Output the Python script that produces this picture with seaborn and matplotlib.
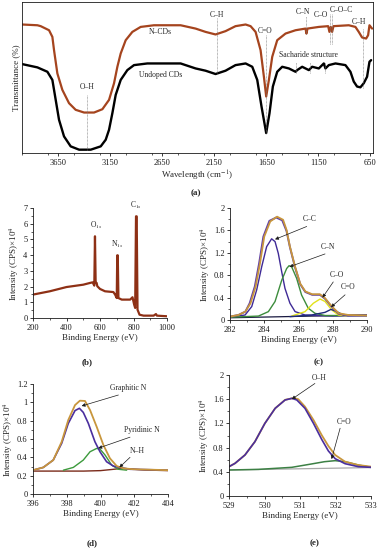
import numpy as np
import pandas as pd
import matplotlib
matplotlib.use("Agg")
import matplotlib.pyplot as plt
import seaborn as sns
from matplotlib.ticker import MultipleLocator, FuncFormatter

# ---- (a) FTIR ----
ncd_wn = [4000, 3852, 3820, 3740, 3708, 3692, 3660, 3612, 3548, 3484, 3403, 3307, 3227, 3163,
          3115, 3083, 3051, 3003, 2939, 2859, 2731, 2475, 2331, 2235, 2139, 2043, 1947, 1850,
          1802, 1754, 1706, 1674, 1652, 1626, 1594, 1546, 1466, 1370, 1274, 1265, 1255, 1146,
          1056, 1044, 1031, 1018, 1005, 858, 794, 762, 730, 691, 672, 659, 634]
ncd_t = [85.1, 84.6, 84.0, 81.3, 76.9, 68.1, 52.7, 41.8, 33.0, 28.6, 26.8, 26.8, 29.0, 35.2,
         46.2, 57.1, 65.9, 74.7, 80.2, 83.5, 84.6, 84.6, 82.4, 80.2, 78.5, 80.7, 84.0, 85.1,
         84.0, 80.2, 68.1, 50.5, 37.4, 48.4, 63.7, 74.7, 79.1, 81.3, 82.4, 79.1, 82.4, 83.5,
         84.0, 80.2, 83.5, 80.2, 84.0, 84.6, 83.5, 80.2, 76.5, 75.8, 78.0, 84.6, 82.4]
und_wn = [4000, 3852, 3756, 3708, 3676, 3644, 3596, 3532, 3451, 3339, 3243, 3195, 3163, 3131,
          3099, 3051, 2987, 2923, 2795, 2475, 2331, 2235, 2139, 2043, 1947, 1850, 1786, 1738,
          1697, 1652, 1620, 1588, 1546, 1498, 1434, 1370, 1354, 1306, 1242, 1210, 1146, 1098,
          1082, 1050, 986, 890, 842, 810, 778, 746, 714, 682, 659, 643]
und_t = [58.9, 56.7, 53.8, 48.4, 35.2, 22.0, 11.0, 4.4, 2.2, 2.2, 4.4, 8.8, 15.4, 26.4,
         38.5, 48.4, 54.9, 58.2, 59.3, 59.3, 56.0, 54.5, 52.3, 54.5, 58.2, 59.3, 57.1, 48.4,
         30.8, 13.2, 26.4, 44.0, 53.8, 57.1, 56.0, 53.8, 54.9, 57.1, 54.9, 57.1, 56.0, 59.3,
         56.0, 58.2, 59.3, 58.2, 53.8, 47.3, 44.0, 43.5, 46.2, 50.5, 60.4, 61.5]
ftir_ticks = [3650, 3150, 2650, 2150, 1650, 1150, 650]
# band markers: label, wavenumber of line, line bottom, line top, label x, label y
bands = [("O–H", 3371, 2.2, 38.5, 3371, 43.5),
         ("C–H", 2129, 52.3, 89.5, 2129, 91.5),
         ("C=O", 1652, 13.2, 78.0, 1665, 80.5),
         ("C–N", 1265, 79.1, 91.0, 1300, 93.5),
         ("C–O", None, 0, 0, 1124, 91.5),
         ("C–O–C", 1040, 72.5, 92.0, 930, 94.5),
         ("C–O–C", 1018, 72.5, 92.0, None, None),
         ("C–H", 723, 42.9, 82.4, 760, 87.0)]
sach_wn = [1370, 1226, 1082]

# ---- (b) XPS survey ----
surv_be = [200, 300, 400, 500, 540, 556, 566, 570, 574, 580, 584, 600, 630, 680, 690, 700,
           703, 706, 710, 730, 780, 794, 804, 810, 815, 819, 824, 836, 860, 920, 934, 940, 1000]
surv_i = [1.49, 1.70, 1.97, 2.12, 2.23, 2.27, 2.06, 5.2, 2.23, 2.23, 2.02, 1.85, 1.70, 1.65, 1.49, 1.27,
          3.99, 3.99, 1.27, 1.17, 1.17, 1.32, 0.85, 0.64, 6.47, 6.47, 0.53, 0.21, 0.15, 0.15, 0.25, 0.15, 0.11]

# ---- (c) C1s ----
c_env_x = [282.0, 282.5, 282.9, 283.2, 283.5, 283.75, 284.0, 284.35, 284.75, 285.1, 285.3, 285.5,
           285.8, 286.1, 286.4, 286.8, 287.25, 287.55, 287.95, 288.35, 288.9, 290.0]
c_env_y = [0.06, 0.09, 0.15, 0.30, 0.60, 1.01, 1.49, 1.76, 1.845, 1.79, 1.61, 1.31,
           0.95, 0.65, 0.51, 0.46, 0.46, 0.39, 0.24, 0.12, 0.09, 0.08]
c_raw_x = [282.0, 282.5, 282.9, 283.15, 283.45, 283.7, 283.95, 284.3, 284.7, 285.05, 285.3, 285.5,
           285.8, 286.1, 286.4, 286.8, 287.25, 287.55, 287.95, 288.35, 288.9, 290.0]
c_raw_y = [0.06, 0.09, 0.15, 0.30, 0.60, 1.01, 1.49, 1.77, 1.83, 1.78, 1.59, 1.30,
           0.94, 0.64, 0.50, 0.45, 0.45, 0.38, 0.23, 0.11, 0.08, 0.08]
cc_x = [282.0, 282.88, 283.27, 283.56, 283.85, 284.14, 284.43, 284.63, 284.82, 285.02, 285.21,
        285.5, 285.8, 286.38, 288.0, 290.0]
cc_y = [0.05, 0.089, 0.24, 0.54, 0.95, 1.31, 1.45, 1.40, 1.19, 0.86, 0.565,
        0.30, 0.15, 0.089, 0.07, 0.08]
cn_x = [282.0, 283.66, 284.24, 284.63, 285.02, 285.31, 285.45, 285.6, 285.89, 286.18, 286.57,
        286.96, 287.55, 290.0]
cn_y = [0.05, 0.07, 0.149, 0.33, 0.71, 0.92, 0.97, 0.95, 0.745, 0.446, 0.21,
        0.12, 0.08, 0.08]
co_x = [285.6, 286.38, 286.87, 287.26, 287.55, 287.94, 288.33, 288.8]
co_y = [0.07, 0.149, 0.30, 0.375, 0.33, 0.18, 0.089, 0.075]
cdo_x = [285.5, 286.77, 287.55, 287.9, 288.23, 288.62, 290.0]
cdo_y = [0.06, 0.089, 0.137, 0.19, 0.15, 0.089, 0.08]
c_base_x = [282.0, 290.0]
c_base_y = [0.04, 0.09]

# ---- (d) N1s ----
n_env_x = [396.0, 396.61, 397.2, 397.7, 398.09, 398.49, 398.78, 399.08, 399.38, 399.77,
           400.17, 400.56, 400.96, 401.35, 401.95, 404.0]
n_env_y = [0.26, 0.29, 0.37, 0.57, 0.807, 0.97, 1.018, 1.015, 0.916, 0.735,
           0.535, 0.389, 0.305, 0.28, 0.27, 0.26]
gn_x = [396.0, 396.61, 397.2, 397.7, 398.09, 398.49, 398.75, 398.98, 399.28, 399.67,
        399.97, 400.36, 400.76, 401.16, 401.75, 404.0]
gn_y = [0.26, 0.29, 0.37, 0.553, 0.77, 0.91, 0.935, 0.89, 0.77, 0.57,
        0.461, 0.352, 0.305, 0.287, 0.27, 0.26]
pn_x = [397.8, 398.39, 398.98, 399.38, 399.77, 399.97, 400.27, 400.66, 401.05, 401.55]
pn_y = [0.26, 0.29, 0.37, 0.461, 0.497, 0.49, 0.425, 0.316, 0.27, 0.26]
nh_x = [396.0, 399.0, 400.0, 400.8, 401.3, 402.0, 402.6, 404.0]
nh_y = [0.25, 0.25, 0.255, 0.27, 0.28, 0.27, 0.262, 0.255]

# ---- (e) O1s ----
oh_x = [529.0, 529.17, 529.45, 529.73, 530.01, 530.30, 530.58, 530.77, 530.91, 531.14,
        531.38, 531.61, 531.80, 531.99, 532.27, 532.64, 533.0]
oh_y = [0.485, 0.54, 0.678, 0.898, 1.20, 1.449, 1.587, 1.614, 1.587, 1.449,
        1.20, 0.937, 0.744, 0.617, 0.534, 0.485, 0.474]
o_env_x = [529.0, 529.17, 529.45, 529.73, 530.01, 530.30, 530.58, 530.82, 530.95, 531.14,
           531.38, 531.61, 531.80, 531.99, 532.27, 532.64, 533.0]
o_env_y = [0.485, 0.54, 0.678, 0.898, 1.20, 1.449, 1.59, 1.62, 1.60, 1.477,
           1.256, 1.008, 0.826, 0.678, 0.567, 0.512, 0.485]
ocdo_x = [529.0, 529.83, 530.77, 531.33, 531.69, 531.99, 532.27, 532.64, 533.0]
ocdo_y = [0.43, 0.44, 0.474, 0.53, 0.567, 0.584, 0.567, 0.512, 0.474]
o_base_x = [529.0, 533.0]
o_base_y = [0.43, 0.47]

sns.set_theme(style="ticks")
plt.rcParams['font.family'] = ['Liberation Serif', 'DejaVu Serif']
plt.rcParams['mathtext.fontset'] = 'stix'
plt.rcParams['axes.linewidth'] = 0.6
plt.rcParams['lines.solid_joinstyle'] = 'round'
for k in ['xtick', 'ytick']:
    plt.rcParams[k + '.major.size'] = 2.5
    plt.rcParams[k + '.minor.size'] = 1.5
    plt.rcParams[k + '.major.width'] = 0.6
    plt.rcParams[k + '.minor.width'] = 0.5
    plt.rcParams[k + '.major.pad'] = 1.5
    plt.rcParams[k + '.labelsize'] = 6
    plt.rcParams[k + '.color'] = 'k'
plt.rcParams['axes.edgecolor'] = 'k'

W, H = 382, 550
fig = plt.figure(figsize=(W / 100, H / 100), dpi=100)


def box(l, r, t, b):
    return fig.add_axes([l / W, 1 - b / H, (r - l) / W, (b - t) / H])


def line(ax, x, y, c, lw):
    sns.lineplot(x=x, y=y, ax=ax, color=c, lw=lw, estimator=None, sort=False)


gfmt = FuncFormatter(lambda v, p: "%g" % round(v, 3))
lab = dict(fontsize=6.5, labelpad=1.5)
ylab_txt = "Intensity (CPS)×10$^4$"
arrow = dict(arrowstyle='-|>', color='k', lw=0.5, mutation_scale=5, shrinkA=0, shrinkB=0)

# ---------- (a) ----------
ax = box(22, 373, 2, 153)
line(ax, ncd_wn, ncd_t, "#A5441E", 1.6)
line(ax, und_wn, und_t, "black", 1.7)
ax.set_xlim(4000, 625)
ax.set_ylim(0, 100)
ax.set_xticks(ftir_ticks)
ax.xaxis.set_minor_locator(MultipleLocator(250))
ax.set_yticks([])
for name, wn, y0, y1, tx, ty in bands:
    if wn is not None:
        ax.plot([wn, wn], [y0, y1], color='#777777', lw=0.5, ls=(0, (1, 1)))
    if tx is not None:
        ax.text(tx, ty, name, fontsize=5.5, ha='center', va='center')
for wn in sach_wn:
    ax.plot([wn, wn], [52.7, 60.4], color='#777777', lw=0.5, ls=(0, (1, 1)))
ax.text(1249, 64.6, "Sacharide structure", fontsize=5.5, ha='center', va='center')
ax.text(2667, 80.2, "N–CDs", fontsize=5.5, ha='center', va='center')
ax.text(2667, 51.6, "Undoped CDs", fontsize=5.5, ha='center', va='center')
ax.set_xlabel("Wavelength (cm$^{-1}$)", **lab)
ax.set_ylabel("Transmittance (%)", **lab)
fig.text(196 / W, 1 - 193 / H, "(a)", fontsize=6.5, ha='center', va='center', fontweight='bold')

# ---------- (b) ----------
ax = box(33, 167, 208, 318)
line(ax, surv_be, surv_i, "#8E3015", 1.6)
ax.set_xlim(200, 1000)
ax.set_ylim(0, 7)
ax.xaxis.set_major_locator(MultipleLocator(200))
ax.xaxis.set_minor_locator(MultipleLocator(100))
ax.yaxis.set_major_locator(MultipleLocator(1))
ax.yaxis.set_minor_locator(MultipleLocator(0.5))
ax.text(575, 5.55, "O$_{1s}$", fontsize=5.5, ha='center', va='bottom')
ax.text(700, 4.3, "N$_{1s}$", fontsize=5.5, ha='center', va='bottom')
ax.text(815, 6.8, "C$_{1s}$", fontsize=5.5, ha='center', va='bottom')
ax.set_xlabel("Binding Energy (eV)", **lab)
ax.set_ylabel(ylab_txt, **lab)
sns.despine(ax=ax)
fig.text(87 / W, 1 - 362 / H, "(b)", fontsize=6.5, ha='center', va='center', fontweight='bold')

# ---------- (c) ----------
ax = box(230, 367, 208, 320)
line(ax, c_base_x, c_base_y, "#1A1A40", 0.9)
line(ax, cc_x, cc_y, "#3F2A96", 1.0)
line(ax, cn_x, cn_y, "#3C8C3C", 1.0)
line(ax, co_x, co_y, "#E2E21A", 1.0)
line(ax, cdo_x, cdo_y, "#1E2A7A", 1.0)
line(ax, c_raw_x, c_raw_y, "#6040A8", 1.4)
line(ax, c_env_x, c_env_y, "#C8963C", 1.3)
ax.set_xlim(282, 290)
ax.set_ylim(0, 2)
ax.xaxis.set_major_locator(MultipleLocator(2))
ax.xaxis.set_minor_locator(MultipleLocator(1))
ax.yaxis.set_major_locator(MultipleLocator(0.4))
ax.yaxis.set_minor_locator(MultipleLocator(0.2))
ax.yaxis.set_major_formatter(gfmt)
for t, xy, xt in [("C–C", (284.63, 1.44), (286.48, 1.67)),
                  ("C–N", (285.47, 0.95), (287.55, 1.18)),
                  ("C–O", (287.4, 0.40), (288.03, 0.68)),
                  ("C=O", (287.9, 0.23), (288.72, 0.45))]:
    ax.annotate("", xy=xy, xytext=xt, arrowprops=arrow)
    ax.text(xt[0] + 0.2, xt[1] + 0.06, t, fontsize=5.5, ha='center', va='bottom')
ax.set_xlabel("Binding Energy (eV)", **lab)
ax.set_ylabel(ylab_txt, **lab)
sns.despine(ax=ax)
fig.text(319 / W, 1 - 362 / H, "(c)", fontsize=6.5, ha='center', va='center', fontweight='bold')

# ---------- (d) ----------
ax = box(33, 168, 384, 494)
line(ax, nh_x, nh_y, "#7A2A1A", 1.0)
line(ax, pn_x, pn_y, "#3C9A3C", 1.0)
line(ax, gn_x, gn_y, "#4A2E9E", 1.2)
line(ax, n_env_x, n_env_y, "#C8963C", 1.3)
ax.set_xlim(396, 404)
ax.set_ylim(0, 1.2)
ax.xaxis.set_major_locator(MultipleLocator(2))
ax.xaxis.set_minor_locator(MultipleLocator(1))
ax.yaxis.set_major_locator(MultipleLocator(0.2))
ax.yaxis.set_minor_locator(MultipleLocator(0.1))
ax.yaxis.set_major_formatter(gfmt)
for t, xy, xt, dx in [("Graphitic N", (398.88, 0.96), (401.06, 1.08), 0.6),
                      ("Pyridinic N", (399.87, 0.50), (401.75, 0.62), 0.7),
                      ("N–H", (401.12, 0.29), (401.75, 0.40), 0.4)]:
    ax.annotate("", xy=xy, xytext=xt, arrowprops=arrow)
    ax.text(xt[0] + dx, xt[1] + 0.03, t, fontsize=5.5, ha='center', va='bottom')
ax.set_xlabel("Binding Energy (eV)", **lab)
ax.set_ylabel(ylab_txt, **lab)
sns.despine(ax=ax)
fig.text(92 / W, 1 - 543 / H, "(d)", fontsize=6.5, ha='center', va='center', fontweight='bold')

# ---------- (e) ----------
ax = box(229, 371, 375, 496)
line(ax, o_base_x, o_base_y, "#A8A8A8", 0.9)
line(ax, ocdo_x, ocdo_y, "#3C8044", 1.1)
line(ax, o_env_x, o_env_y, "#C8963C", 1.3)
line(ax, oh_x, oh_y, "#4A2E9E", 1.2)
ax.set_xlim(529, 533)
ax.set_ylim(0, 2)
ax.xaxis.set_major_locator(MultipleLocator(1))
ax.xaxis.set_minor_locator(MultipleLocator(0.5))
ax.yaxis.set_major_locator(MultipleLocator(0.4))
ax.yaxis.set_minor_locator(MultipleLocator(0.2))
ax.yaxis.set_major_formatter(gfmt)
for t, xy, xt in [("O–H", (530.77, 1.60), (531.42, 1.86)),
                  ("C=O", (531.89, 0.61), (532.13, 1.12))]:
    ax.annotate("", xy=xy, xytext=xt, arrowprops=arrow)
    ax.text(xt[0] + 0.12, xt[1] + 0.03, t, fontsize=5.5, ha='center', va='bottom')
ax.set_xlabel("Binding Energy (eV)", **lab)
ax.set_ylabel(ylab_txt, **lab)
sns.despine(ax=ax)
fig.text(315 / W, 1 - 543 / H, "(e)", fontsize=6.5, ha='center', va='center', fontweight='bold')

fig.savefig("out.png", dpi=100)
